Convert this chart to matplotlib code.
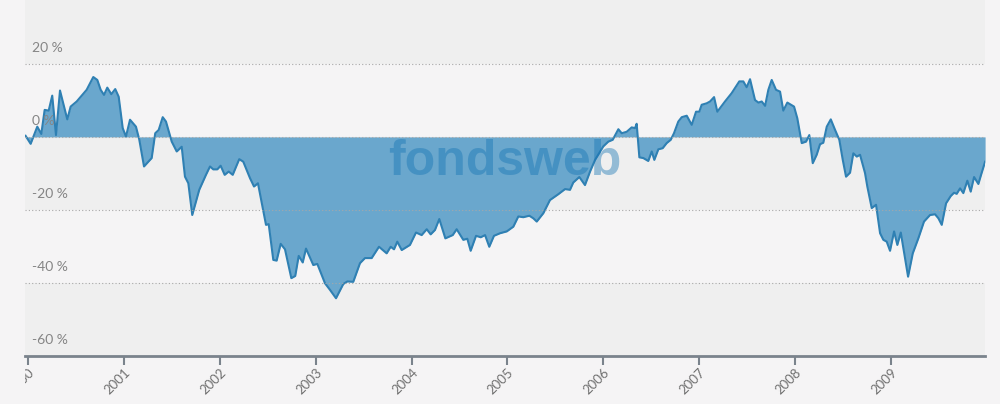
import matplotlib
matplotlib.use("Agg")
import matplotlib.pyplot as plt
from matplotlib.transforms import Bbox, TransformedBbox

# Wertentwicklung in %, x als Dezimaljahr
years = [
    1999.975, 2000.028, 2000.097, 2000.139, 2000.174, 2000.216, 2000.253, 2000.292,
    2000.334, 2000.410, 2000.445, 2000.508, 2000.612, 2000.681, 2000.723, 2000.758,
    2000.793, 2000.827, 2000.869, 2000.910, 2000.946, 2000.988, 2001.022, 2001.064,
    2001.126, 2001.161, 2001.210, 2001.290, 2001.327, 2001.363, 2001.405, 2001.439,
    2001.499, 2001.551, 2001.603, 2001.637, 2001.672, 2001.713, 2001.786, 2001.856,
    2001.898, 2001.932, 2001.974, 2002.009, 2002.051, 2002.093, 2002.135, 2002.203,
    2002.245, 2002.315, 2002.357, 2002.398, 2002.482, 2002.510, 2002.558, 2002.593,
    2002.635, 2002.680, 2002.746, 2002.787, 2002.823, 2002.865, 2002.899, 2002.975,
    2003.017, 2003.097, 2003.149, 2003.212, 2003.288, 2003.330, 2003.392, 2003.462,
    2003.514, 2003.584, 2003.660, 2003.740, 2003.782, 2003.817, 2003.851, 2003.897,
    2003.983, 2004.046, 2004.105, 2004.158, 2004.199, 2004.244, 2004.289, 2004.352,
    2004.429, 2004.470, 2004.539, 2004.581, 2004.616, 2004.672, 2004.721, 2004.766,
    2004.810, 2004.859, 2004.922, 2004.992, 2005.061, 2005.113, 2005.165, 2005.228,
    2005.269, 2005.305, 2005.374, 2005.443, 2005.530, 2005.600, 2005.652, 2005.686,
    2005.749, 2005.808, 2005.861, 2005.913, 2005.999, 2006.051, 2006.097, 2006.156,
    2006.191, 2006.243, 2006.295, 2006.330, 2006.347, 2006.375, 2006.416, 2006.468,
    2006.504, 2006.531, 2006.573, 2006.618, 2006.660, 2006.702, 2006.736, 2006.781,
    2006.817, 2006.869, 2006.921, 2006.966, 2007.000, 2007.025, 2007.077, 2007.112,
    2007.154, 2007.188, 2007.268, 2007.338, 2007.417, 2007.459, 2007.494, 2007.529,
    2007.581, 2007.616, 2007.651, 2007.686, 2007.720, 2007.755, 2007.800, 2007.842,
    2007.876, 2007.918, 2007.988, 2008.022, 2008.068, 2008.113, 2008.147, 2008.183,
    2008.224, 2008.259, 2008.293, 2008.329, 2008.371, 2008.416, 2008.460, 2008.496,
    2008.530, 2008.572, 2008.606, 2008.642, 2008.676, 2008.728, 2008.752, 2008.798,
    2008.843, 2008.885, 2008.919, 2008.954, 2008.989, 2009.031, 2009.065, 2009.101,
    2009.177, 2009.226, 2009.284, 2009.343, 2009.406, 2009.458, 2009.493, 2009.528,
    2009.573, 2009.622, 2009.656, 2009.684, 2009.719, 2009.753, 2009.795, 2009.830,
    2009.865, 2009.910, 2009.938, 2009.980,
]
perf = [
    0.3, -1.9, 2.8, 0.8, 7.4, 7.2, 11.3, 0.5,
    12.7, 4.8, 8.3, 9.7, 12.9, 16.4, 15.6, 12.9,
    11.5, 13.5, 11.7, 13.1, 11.0, 2.4, 0.1, 4.7,
    2.8, -0.8, -8.1, -5.8, 1.0, 1.9, 5.4, 4.2,
    -1.3, -4.0, -2.7, -10.9, -12.7, -21.4, -14.5, -10.4,
    -8.1, -8.9, -8.9, -7.9, -10.4, -9.5, -10.4, -6.1,
    -6.8, -11.3, -13.6, -12.7, -24.1, -23.9, -33.7, -33.9,
    -29.3, -30.8, -38.7, -38.1, -32.6, -34.4, -30.6, -35.1,
    -34.8, -40.1, -41.9, -44.2, -40.3, -39.6, -39.7, -34.6,
    -33.2, -33.2, -30.1, -31.9, -30.1, -30.8, -28.7, -31.0,
    -29.6, -26.2, -26.9, -25.3, -26.7, -25.5, -22.5, -27.8,
    -26.9, -25.3, -28.2, -27.9, -31.2, -27.1, -27.5, -26.9,
    -30.1, -27.1, -26.4, -25.9, -24.6, -21.8, -22.0, -21.6,
    -22.3, -23.2, -20.9, -17.3, -15.7, -14.3, -14.5, -12.5,
    -11.0, -13.2, -9.5, -6.3, -2.6, -1.3, -0.8, 2.1,
    1.0, 1.4, 2.6, 2.4, 3.6, -5.6, -5.8, -6.6,
    -4.0, -6.3, -3.4, -3.1, -1.7, -0.8, 1.0, 4.2,
    5.4, 5.8, 3.3, 6.9, 6.9, 8.8, 9.2, 9.7,
    10.9, 6.9, 9.7, 12.0, 15.2, 15.2, 13.6, 15.8,
    10.1, 9.4, 9.7, 8.5, 12.9, 15.6, 12.9, 12.4,
    7.2, 9.4, 8.3, 5.1, -1.7, -1.3, 0.5, -7.2,
    -4.9, -2.0, -1.6, 2.8, 4.8, 1.9, -0.8, -6.3,
    -10.9, -9.8, -4.5, -5.4, -4.9, -9.9, -13.6, -19.5,
    -18.6, -26.4, -28.2, -28.7, -31.2, -25.9, -29.6, -26.2,
    -38.3, -31.9, -27.8, -23.2, -21.4, -21.2, -22.3, -24.1,
    -18.2, -16.2, -15.3, -15.6, -14.1, -15.4, -12.0, -15.0,
    -11.0, -12.9, -10.4, -6.8,
]

tick_years = list(range(2000, 2010))
grid_vals = [20, 0, -20, -40]
label_vals = [20, 0, -20, -40, -60]

plt.rcParams["font.family"] = ["Lato", "DejaVu Sans"]

fig = plt.figure(figsize=(10, 4.04), dpi=100, facecolor="#f5f4f5")
ax = fig.add_axes([0.025, 0.119, 0.96, 0.881])
ax.set_facecolor("#f5f4f5")
ax.set_xlim(1999.969, 2009.979)
ax.set_ylim(-60, 37.5)

# abwechselnde Hintergrundbaender
for lo, hi in [(20, 37.5), (-20, 0), (-60, -40)]:
    ax.axhspan(lo, hi, color="#efefef", zorder=0, lw=0)

ax.fill_between(years, perf, 0, color="#6aa7cd", lw=0, zorder=2)
ax.plot(years, perf, color="#2f80b3", lw=1.5, zorder=3)

for v in grid_vals:
    ax.axhline(v, color="#a8a8a8", lw=0.8, ls=(0, (1, 2)), zorder=4)

for v in label_vals:
    ax.text(0.007, v + 4.3, f"{v} %", transform=ax.get_yaxis_transform(),
            fontsize=10, color="#858585", va="center", ha="left", zorder=5)

ax.text(0.5, 0.545, "fondsweb", transform=ax.transAxes, ha="center", va="center",
        fontsize=36, fontweight="bold", family=["Liberation Sans"],
        color=(0.08, 0.45, 0.70), alpha=0.42, zorder=6)

ax.set_yticks([])
ax.set_xticks(tick_years)
ax.set_xticklabels([str(y) for y in tick_years], rotation=45, ha="right",
                   rotation_mode="anchor", fontsize=9.5, color="#707070")
ax.tick_params(axis="x", length=6.5, width=1.5, color="#7a838c", pad=1)

# "2000" wird am linken Rand des Plotbereichs abgeschnitten
clip = TransformedBbox(Bbox.from_extents(0.025, 0, 1, 1), fig.transFigure)
for lbl in ax.get_xticklabels():
    lbl.set_clip_on(True)
    lbl.set_clip_box(clip)

for side in ["top", "right", "left"]:
    ax.spines[side].set_visible(False)
ax.spines["bottom"].set_color("#7a838c")
ax.spines["bottom"].set_linewidth(2)
ax.spines["bottom"].set_zorder(7)

fig.savefig("out.png", dpi=100, facecolor=fig.get_facecolor())
